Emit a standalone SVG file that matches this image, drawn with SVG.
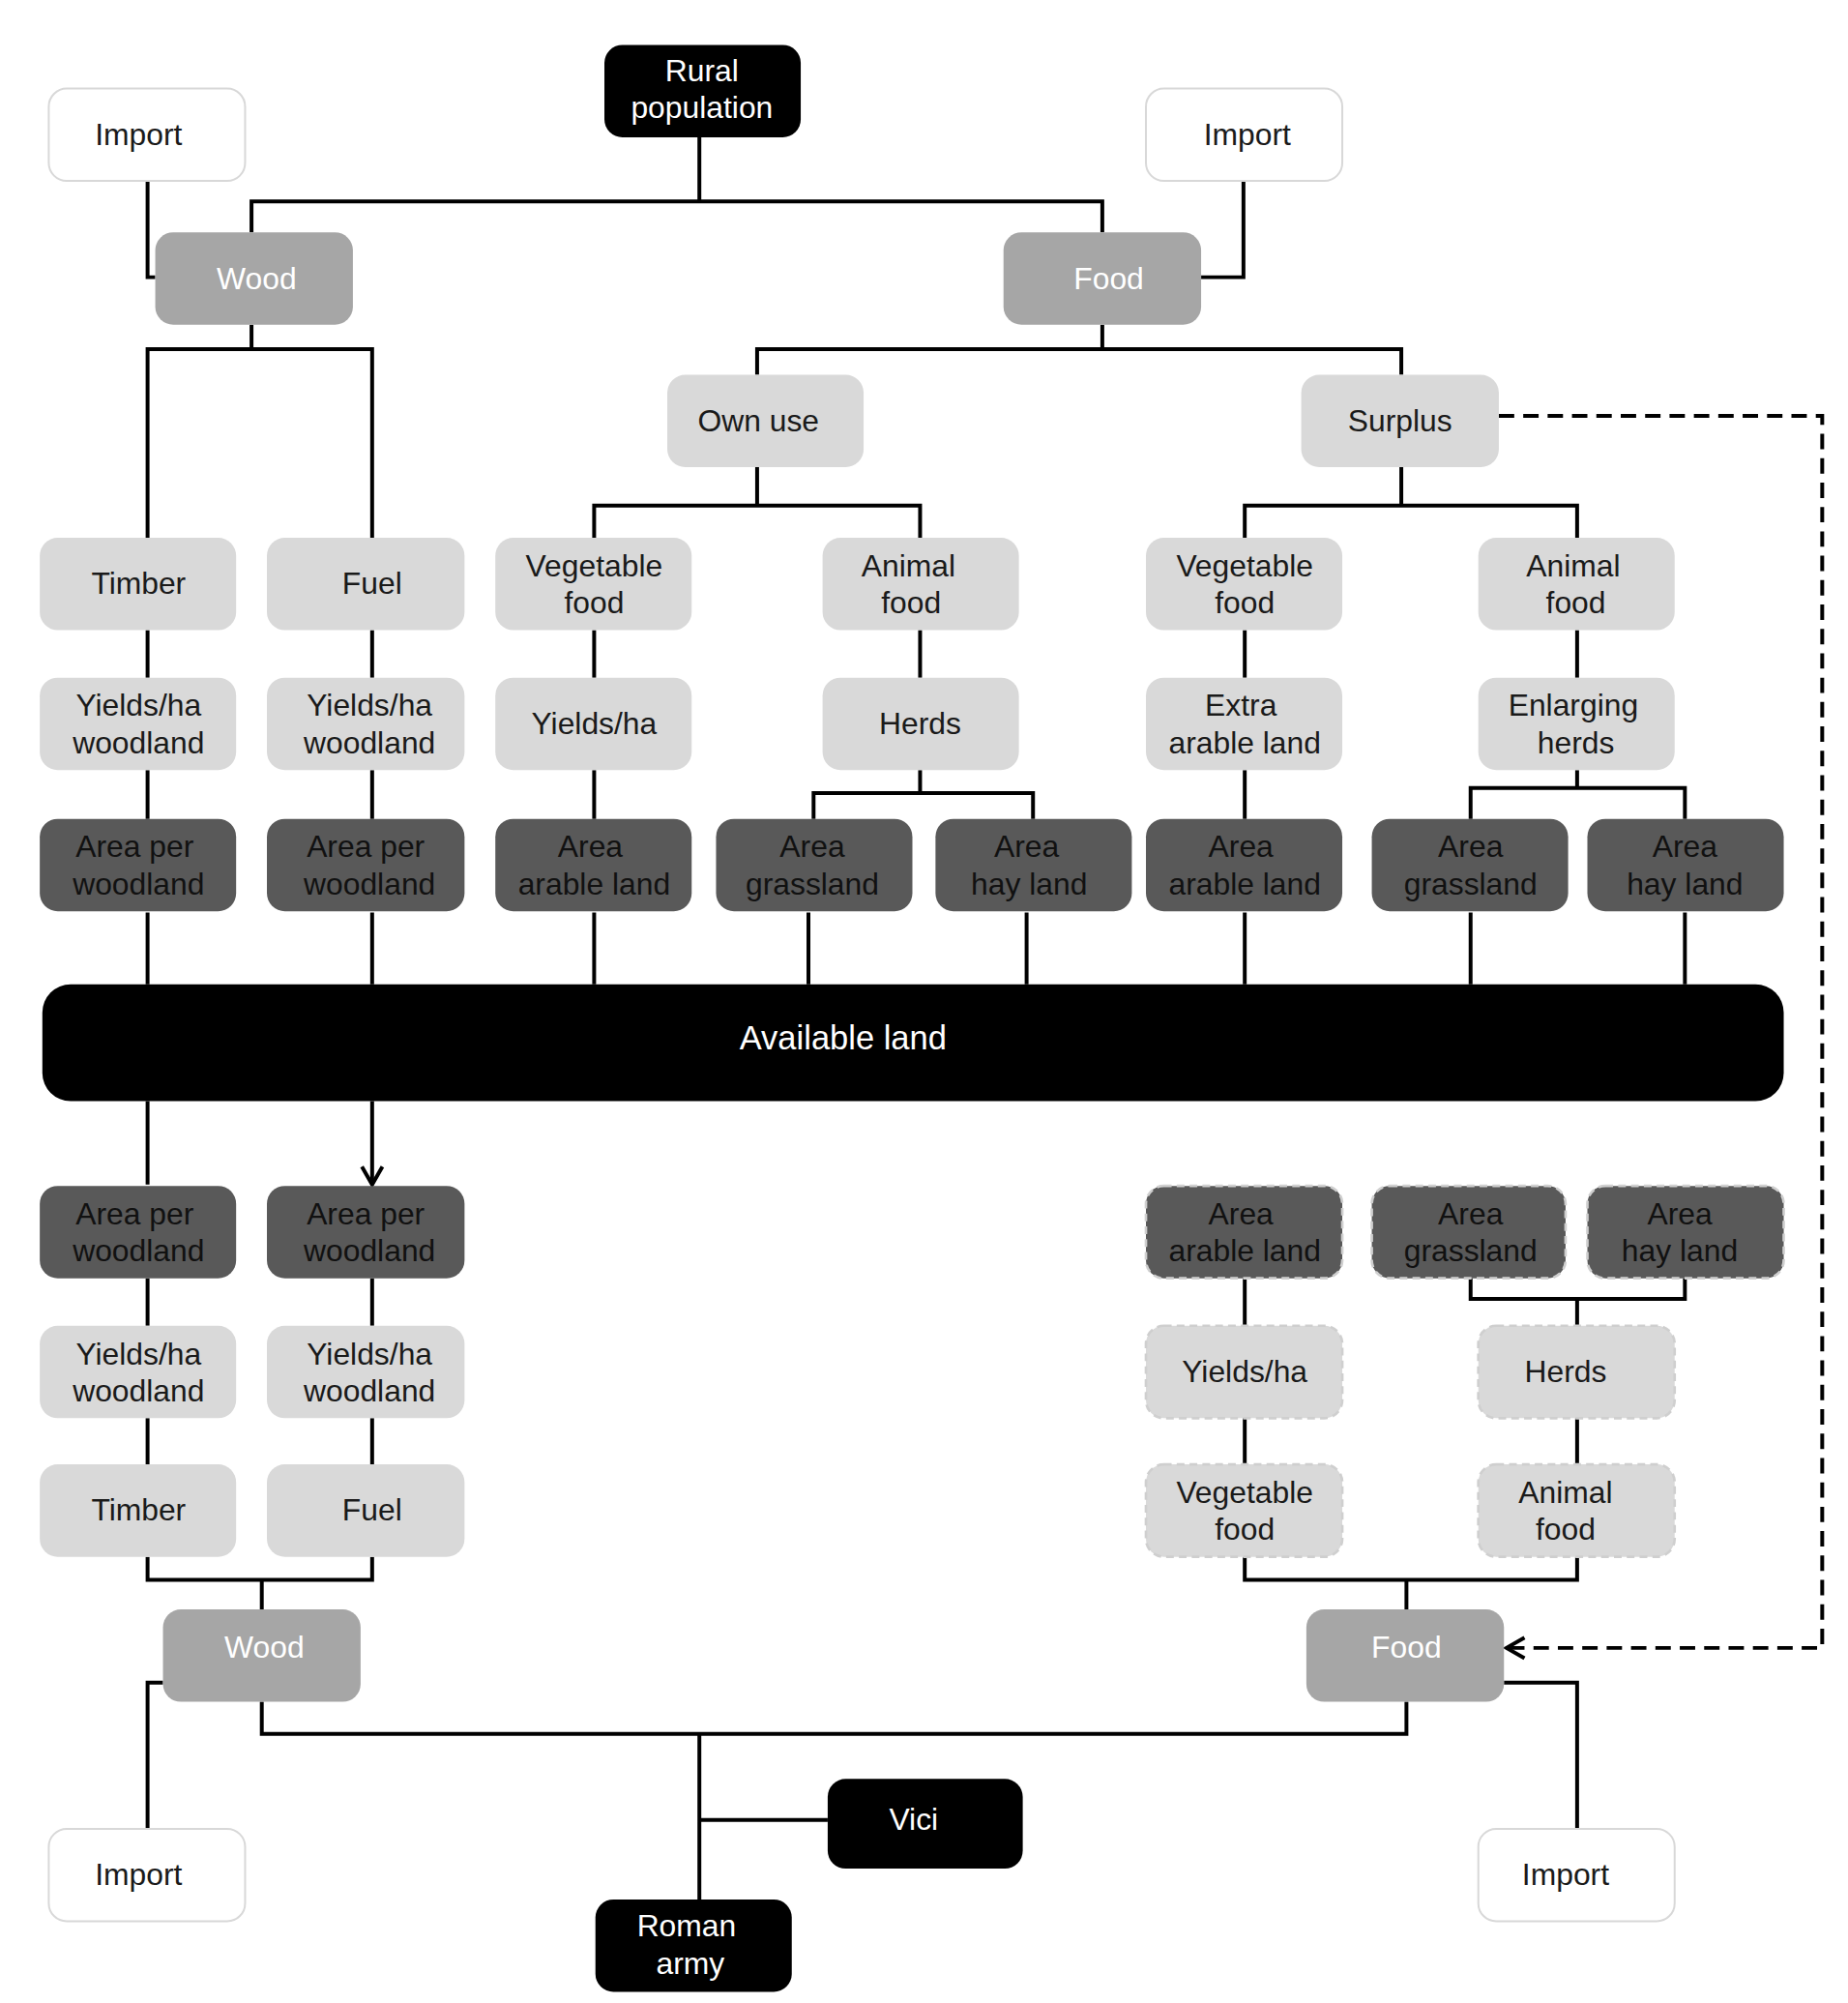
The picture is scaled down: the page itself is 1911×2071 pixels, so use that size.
<svg xmlns="http://www.w3.org/2000/svg" width="1911" height="2071" viewBox="0 0 1911 2071">
<style>
text{font-family:"Liberation Sans",Arial,sans-serif;font-size:24px;text-anchor:middle;fill:#1a1a1a}
.w rect{fill:#fff;stroke:#d8d8d8;stroke-width:1.5}
.b rect{fill:#000}.b text{fill:#fff}
.m rect{fill:#a6a6a6}.m text{fill:#fff}
.l rect{fill:#d9d9d9}
.d rect{fill:#595959}.d text{fill:#111}
.dd rect{stroke:#cfcfcf;stroke-width:2;stroke-dasharray:6 4}
#c path{fill:none;stroke:#000;stroke-width:3}
</style>
<defs><marker id="a" viewBox="0 0 20 20" refX="18" refY="10" markerWidth="20" markerHeight="20" markerUnits="userSpaceOnUse" orient="auto"><path d="M4,2 L18,10 L4,18" fill="none" stroke="#000" stroke-width="3"/></marker></defs>
<rect width="1911" height="2071" fill="#fff"/>
<g transform="scale(1.327)">
<g id="c">
<path d="M545,107V157M196,181V157H859V181M115,141V216H121M969,141V216H936M196,253V272M115,419V272H290V419M859,253V272M590,292V272H1092V292M590,364V394M463,419V394H717V419M1092,364V394M970,419V394H1229V419"/>
<path d="M115,491V528M290,491V528M463,491V528M717,491V528M970,491V528M1229,491V528M115,600V638M290,600V638M463,600V638M970,600V638M717,600V618M634,638V618H805V638M1229,600V614M1146,638V614H1313V638"/>
<path marker-end="url(#a)" d="M115,767V711M290,767V711M463,767V711M630,767V711M800,767V711M970,767V711M1146,767V711M1313,767V711M115,858V923M290,858V923"/>
<path d="M115,996V1033M290,996V1033M115,1105V1141M290,1105V1141M115,1213V1231H290V1213M204,1231V1254M970,996V1033M970,1105V1141M1146,996V1012H1313V996M1229,1012V1033M1229,1105V1141M970,1213V1231H1229V1213M1096,1231V1254"/>
<path d="M1168,324H1420V1284H1174" stroke-dasharray="12 7" marker-end="url(#a)"/>
<path d="M204,1326V1351H1096V1326M545,1351V1480M545,1418H645M115,1425V1311H127M1229,1425V1311H1172"/>
</g>
<g id="n1" class="b"><rect x="471" y="35" width="153" height="72" rx="14"/><text x="547" y="63">Rural</text><text x="547" y="92">population</text></g>
<g id="n2" class="w"><rect x="38" y="69" width="153" height="72" rx="14"/><text x="108" y="113">Import</text></g>
<g id="n3" class="w"><rect x="893" y="69" width="153" height="72" rx="14"/><text x="972" y="113">Import</text></g>
<g id="n4" class="m"><rect x="121" y="181" width="154" height="72" rx="14"/><text x="200" y="225">Wood</text></g>
<g id="n5" class="m"><rect x="782" y="181" width="154" height="72" rx="14"/><text x="864" y="225">Food</text></g>
<g id="n6" class="l"><rect x="520" y="292" width="153" height="72" rx="14"/><text x="591" y="336">Own use</text></g>
<g id="n7" class="l"><rect x="1014" y="292" width="154" height="72" rx="14"/><text x="1091" y="336">Surplus</text></g>
<g id="n8" class="l"><rect x="31" y="419" width="153" height="72" rx="14"/><text x="108" y="463">Timber</text></g>
<g id="n9" class="l"><rect x="208" y="419" width="154" height="72" rx="14"/><text x="290" y="463">Fuel</text></g>
<g id="n10" class="l"><rect x="386" y="419" width="153" height="72" rx="14"/><text x="463" y="449">Vegetable</text><text x="463" y="478">food</text></g>
<g id="n11" class="l"><rect x="641" y="419" width="153" height="72" rx="14"/><text x="708" y="449">Animal</text><text x="710" y="478">food</text></g>
<g id="n12" class="l"><rect x="893" y="419" width="153" height="72" rx="14"/><text x="970" y="449">Vegetable</text><text x="970" y="478">food</text></g>
<g id="n13" class="l"><rect x="1152" y="419" width="153" height="72" rx="14"/><text x="1226" y="449">Animal</text><text x="1228" y="478">food</text></g>
<g id="n14" class="l"><rect x="31" y="528" width="153" height="72" rx="14"/><text x="108" y="558">Yields/ha</text><text x="108" y="587">woodland</text></g>
<g id="n15" class="l"><rect x="208" y="528" width="154" height="72" rx="14"/><text x="288" y="558">Yields/ha</text><text x="288" y="587">woodland</text></g>
<g id="n16" class="l"><rect x="386" y="528" width="153" height="72" rx="14"/><text x="463" y="572">Yields/ha</text></g>
<g id="n17" class="l"><rect x="641" y="528" width="153" height="72" rx="14"/><text x="717" y="572">Herds</text></g>
<g id="n18" class="l"><rect x="893" y="528" width="153" height="72" rx="14"/><text x="967" y="558">Extra</text><text x="970" y="587">arable land</text></g>
<g id="n19" class="l"><rect x="1152" y="528" width="153" height="72" rx="14"/><text x="1226" y="558">Enlarging</text><text x="1228" y="587">herds</text></g>
<g id="n20" class="d"><rect x="31" y="638" width="153" height="72" rx="14"/><text x="105" y="668">Area per</text><text x="108" y="697">woodland</text></g>
<g id="n21" class="d"><rect x="208" y="638" width="154" height="72" rx="14"/><text x="285" y="668">Area per</text><text x="288" y="697">woodland</text></g>
<g id="n22" class="d"><rect x="386" y="638" width="153" height="72" rx="14"/><text x="460" y="668">Area</text><text x="463" y="697">arable land</text></g>
<g id="n23" class="d"><rect x="558" y="638" width="153" height="72" rx="14"/><text x="633" y="668">Area</text><text x="633" y="697">grassland</text></g>
<g id="n24" class="d"><rect x="729" y="638" width="153" height="72" rx="14"/><text x="800" y="668">Area</text><text x="802" y="697">hay land</text></g>
<g id="n25" class="d"><rect x="893" y="638" width="153" height="72" rx="14"/><text x="967" y="668">Area</text><text x="970" y="697">arable land</text></g>
<g id="n26" class="d"><rect x="1069" y="638" width="153" height="72" rx="14"/><text x="1146" y="668">Area</text><text x="1146" y="697">grassland</text></g>
<g id="n27" class="d"><rect x="1237" y="638" width="153" height="72" rx="14"/><text x="1313" y="668">Area</text><text x="1313" y="697">hay land</text></g>
<g id="n28" class="b"><rect x="33" y="767" width="1357" height="91" rx="22"/><text x="657" y="818" style="font-size:26px">Available land</text></g>
<g id="n29" class="d"><rect x="31" y="924" width="153" height="72" rx="14"/><text x="105" y="954">Area per</text><text x="108" y="983">woodland</text></g>
<g id="n30" class="d"><rect x="208" y="924" width="154" height="72" rx="14"/><text x="285" y="954">Area per</text><text x="288" y="983">woodland</text></g>
<g id="n31" class="d dd"><rect x="893" y="924" width="153" height="72" rx="14"/><text x="967" y="954">Area</text><text x="970" y="983">arable land</text></g>
<g id="n32" class="d dd"><rect x="1069" y="924" width="151" height="72" rx="14"/><text x="1146" y="954">Area</text><text x="1146" y="983">grassland</text></g>
<g id="n33" class="d dd"><rect x="1237" y="924" width="153" height="72" rx="14"/><text x="1309" y="954">Area</text><text x="1309" y="983">hay land</text></g>
<g id="n34" class="l"><rect x="31" y="1033" width="153" height="72" rx="14"/><text x="108" y="1063">Yields/ha</text><text x="108" y="1092">woodland</text></g>
<g id="n35" class="l"><rect x="208" y="1033" width="154" height="72" rx="14"/><text x="288" y="1063">Yields/ha</text><text x="288" y="1092">woodland</text></g>
<g id="n36" class="l dd"><rect x="893" y="1033" width="153" height="72" rx="14"/><text x="970" y="1077">Yields/ha</text></g>
<g id="n37" class="l dd"><rect x="1152" y="1033" width="153" height="72" rx="14"/><text x="1220" y="1077">Herds</text></g>
<g id="n38" class="l"><rect x="31" y="1141" width="153" height="72" rx="14"/><text x="108" y="1185">Timber</text></g>
<g id="n39" class="l"><rect x="208" y="1141" width="154" height="72" rx="14"/><text x="290" y="1185">Fuel</text></g>
<g id="n40" class="l dd"><rect x="893" y="1141" width="153" height="72" rx="14"/><text x="970" y="1171">Vegetable</text><text x="970" y="1200">food</text></g>
<g id="n41" class="l dd"><rect x="1152" y="1141" width="153" height="72" rx="14"/><text x="1220" y="1171">Animal</text><text x="1220" y="1200">food</text></g>
<g id="n42" class="m"><rect x="127" y="1254" width="154" height="72" rx="14"/><text x="206" y="1292">Wood</text></g>
<g id="n43" class="m"><rect x="1018" y="1254" width="154" height="72" rx="14"/><text x="1096" y="1292">Food</text></g>
<g id="n44" class="w"><rect x="38" y="1425" width="153" height="72" rx="14"/><text x="108" y="1469">Import</text></g>
<g id="n45" class="w"><rect x="1152" y="1425" width="153" height="72" rx="14"/><text x="1220" y="1469">Import</text></g>
<g id="n46" class="b"><rect x="645" y="1386" width="152" height="70" rx="14"/><text x="712" y="1426">Vici</text></g>
<g id="n47" class="b"><rect x="464" y="1480" width="153" height="72" rx="14"/><text x="535" y="1509">Roman</text><text x="538" y="1538">army</text></g>
</g>
</svg>
